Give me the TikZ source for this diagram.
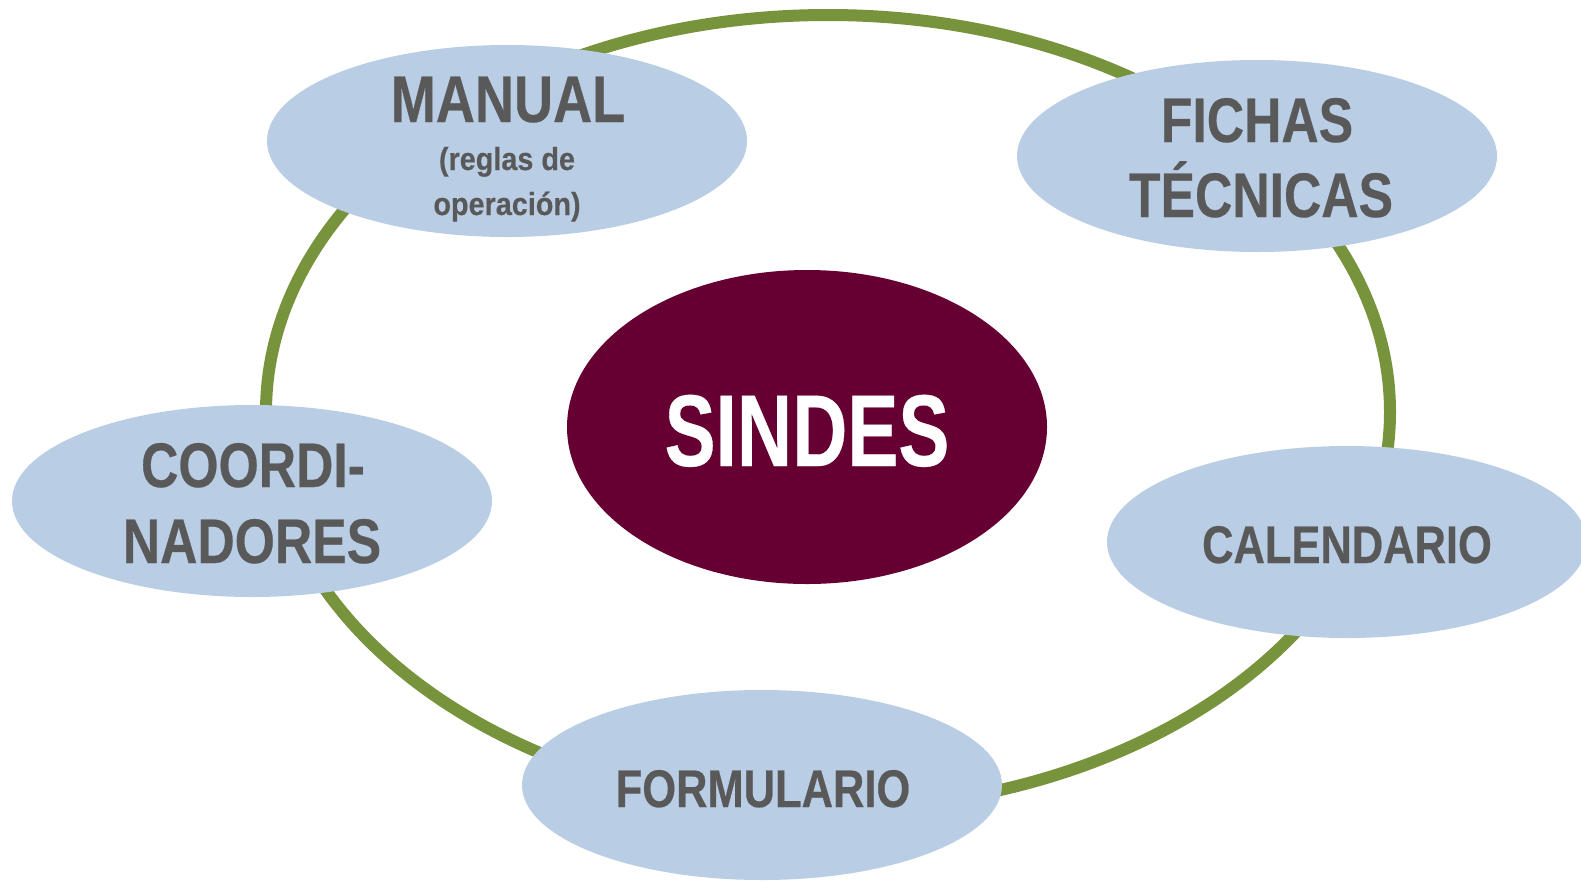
\documentclass[tikz,border=0pt]{standalone}
\usepackage{fontspec}
\usetikzlibrary{shapes.geometric}
\newfontfamily\narrowfont[FakeStretch=0.82,FakeBold=0.4]{Liberation Sans}
\newfontfamily\sindesfont[FakeStretch=0.75,FakeBold=0.3]{Liberation Sans}
\newfontfamily\plainfont[FakeStretch=0.9,FakeBold=0.3]{Liberation Sans}
\definecolor{ringgreen}{HTML}{77933C}
\definecolor{blobblue}{HTML}{B9CDE5}
\definecolor{txtgray}{HTML}{595959}
\definecolor{maroon}{HTML}{660033}
\tikzset{
  blob/.style={ellipse, fill=blobblue, draw=none, inner sep=0pt, outer sep=0pt,
               minimum width=480pt, minimum height=192pt},
  bigtxt/.style={anchor=base, inner sep=0pt, text=txtgray, font=\narrowfont\bfseries\fontsize{63}{63}\selectfont},
  midtxt/.style={anchor=base, inner sep=0pt, text=txtgray, font=\narrowfont\bfseries\fontsize{53}{53}\selectfont},
  mantxt/.style={anchor=base, inner sep=0pt, text=txtgray, font=\narrowfont\bfseries\fontsize{66}{66}\selectfont},
  smalltxt/.style={anchor=base, inner sep=0pt, text=txtgray, font=\plainfont\bfseries\fontsize{32}{32}\selectfont},
}
\begin{document}
\begin{tikzpicture}[x=1pt, y=-1pt]
\useasboundingbox (0,0) rectangle (1581,881);
\fill[white] (0,0) rectangle (1581,881);
% ring
\draw[ringgreen, line width=12pt] (828,412) ellipse [x radius=562pt, y radius=397pt];
% centre
\node[ellipse, fill=maroon, inner sep=0pt, minimum width=480pt, minimum height=314pt] (sindes) at (807,427) {};
\node[anchor=base, inner sep=0pt, text=white, font=\sindesfont\bfseries\fontsize{102}{102}\selectfont] (sindestxt) at (807,466) {SINDES};
% satellites
\node[blob] (manual) at (507,141) {};
\node[mantxt] (manualtxt) at (508,122) {MANUAL};
\node[smalltxt] (manualtxtb) at (507,170) {(reglas de};
\node[smalltxt] (manualtxtc) at (507,215) {operación)};

\node[blob] (fichas) at (1257,156) {};
\node[bigtxt] (fichastxt) at (1257,142) {FICHAS};
\node[bigtxt] (fichastxtb) at (1261,217) {TÉCNICAS};

\node[blob] (coord) at (252,501) {};
\node[bigtxt] (coordtxt) at (253,487) {COORDI-};
\node[bigtxt] (coordtxtb) at (252,563) {NADORES};

\node[blob] (calend) at (1347,542) {};
\node[midtxt] (calendtxt) at (1347,563) {CALENDARIO};

\node[blob, minimum height=190pt] (formul) at (762,785) {};
\node[midtxt] (formultxt) at (763,807) {FORMULARIO};
\end{tikzpicture}
\end{document}
